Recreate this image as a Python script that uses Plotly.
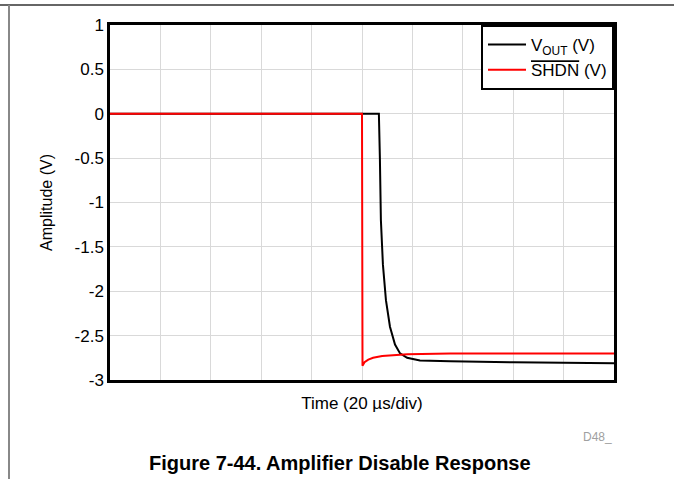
import plotly.graph_objects as go

# time in microseconds (20 us/div, 10 divisions)
t_vout = [0, 50, 106.7, 107.1, 107.5, 108.3, 109.5, 111.1, 113.1, 115.1, 117.9, 123, 135, 160, 200]
v_vout = [0, 0, 0, -0.5, -1.2, -1.7, -2.1, -2.4, -2.6, -2.7, -2.75, -2.78, -2.79, -2.80, -2.81]

t_shdn = [0, 50, 100, 100.2, 101, 102.5, 104.4, 108, 113, 118, 135, 160, 200]
v_shdn = [0, 0, 0, -2.84, -2.80, -2.77, -2.75, -2.73, -2.72, -2.71, -2.70, -2.70, -2.70]

y_ticks = [1, 0.5, 0, -0.5, -1, -1.5, -2, -2.5, -3]

fig = go.Figure()
fig.add_trace(go.Scatter(x=t_vout, y=v_vout, mode="lines", name="V<sub>OUT</sub> (V)",
                         line=dict(color="black", width=2)))
fig.add_trace(go.Scatter(x=t_shdn, y=v_shdn, mode="lines",
                         name="<span style='text-decoration:overline'>SHDN</span> (V)",
                         line=dict(color="#ff0000", width=2)))

font = dict(family="Liberation Sans, Arial, sans-serif", color="black")

fig.update_layout(
    width=674, height=479,
    margin=dict(l=110, r=60, t=25, b=99),
    paper_bgcolor="white", plot_bgcolor="white",
    font=dict(size=17, **font),
    showlegend=True,
    legend=dict(x=1, y=1, xanchor="right", yanchor="top",
                bordercolor="black", borderwidth=2, bgcolor="white",
                font=dict(size=17, **font), tracegroupgap=0,
                itemwidth=38),
    xaxis=dict(range=[0, 200], dtick=20, showticklabels=False, ticks="",
               showgrid=True, gridcolor="#d9d9d9", gridwidth=1,
               showline=True, linecolor="black", linewidth=2.5, mirror=True,
               zeroline=False,
               title=dict(text="Time (20 µs/div)", font=dict(size=17, **font), standoff=16)),
    yaxis=dict(range=[-3, 1], tickvals=y_ticks, ticktext=[str(v) for v in y_ticks],
               showgrid=True, gridcolor="#d9d9d9", gridwidth=1,
               showline=True, linecolor="black", linewidth=2.5, mirror=True,
               zeroline=False, ticks="", ticklen=0,
               tickfont=dict(size=17, **font),
               title=dict(text="Amplitude (V)", font=dict(size=16, **font), standoff=18)),
    shapes=[
        dict(type="line", xref="paper", yref="paper", x0=-110/504, x1=(674-110)/504,
             y0=1 + 20/355, y1=1 + 20/355, line=dict(color="#333333", width=1.5)),
        dict(type="line", xref="paper", yref="paper", x0=-101/504, x1=-101/504,
             y0=1 + 20/355, y1=-99/355, line=dict(color="#888888", width=2)),
    ],
    annotations=[
        dict(text="D48_", xref="paper", yref="paper", x=1, y=-57/355, xanchor="right",
             yanchor="middle", showarrow=False, font=dict(size=12, color="#a0a0a0",
                                                          family=font["family"])),
        dict(text="<b>Figure 7-44. Amplifier Disable Response</b>", xref="paper", yref="paper",
             x=(340-110)/504, y=-83/355, xanchor="center", yanchor="middle", showarrow=False,
             font=dict(size=20, **font)),
    ],
)

fig.write_html("out.html", config={"displayModeBar": False},
               post_script="document.body.style.margin='0px';")
